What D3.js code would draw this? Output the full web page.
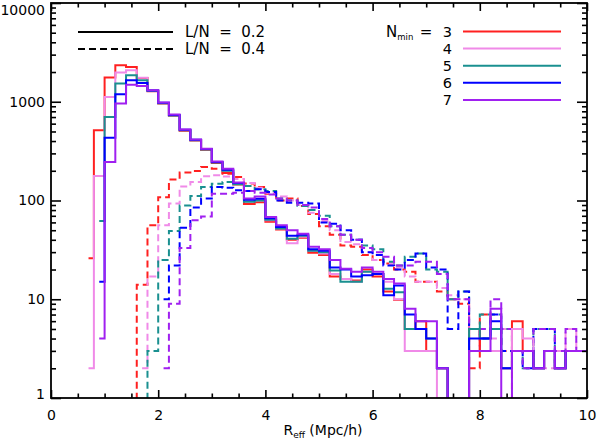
<!DOCTYPE html>
<html><head><meta charset="utf-8">
<script src="https://cdn.jsdelivr.net/npm/d3@7"></script>
<style>body{margin:0;background:#fff;} text{font-family:"DejaVu Sans",sans-serif;fill:#000;}</style>
</head><body><svg id="c" width="598" height="444"></svg>
<script>
// ---- data ----
const binWidth = 0.2;
const nminLabels = ["3", "4", "5", "6", "7"];
const lnLabels = ["L/N  =  0.2", "L/N  =  0.4"];
const seriesColors = ["#ff2020", "#f08ae8", "#1a9090", "#0000ff", "#a020f0"];
const xTicks = [0, 2, 4, 6, 8, 10];
const yTicks = [1, 10, 100, 1000, 10000];

// L/N = 0.2 (solid), values at bin centres starting at solidStart
const solidStart = [0.7, 0.7, 0.9, 0.9, 0.9];
const solidN3 = [26, 514, 1757, 2340, 2250, 1740, 1280, 960, 720, 510, 405, 325, 240, 190, 145, 92, 96, 61, 51, 40, 42, 29.5, 28, 17, 16, 15.5, 20, 17, 12, 9.9, 5, 6, 3, 2, 0, 0, 5, 3, 3, 2, 6, 3, 2, 3, 2, 3, 3, 3];
const solidN4 = [2, 177, 1117, 1973, 2080, 1750, 1300, 970, 730, 520, 410, 330, 245, 200, 148, 98, 100, 63, 52, 37, 43, 31, 29, 18, 16, 15, 19, 18, 15, 10, 3, 3, 3, 1, 0, 0, 3, 3, 3, 2, 5, 4, 2, 3, 2, 3, 3, 3];
const solidN5 = [62, 701, 1527, 1853, 1648, 1290, 965, 725, 515, 408, 328, 243, 200, 146, 97, 100, 64, 52, 41, 44, 31, 30, 19.6, 15, 15, 19, 18, 12.8, 11.8, 5, 5, 4, 2, 0, 0, 5, 4, 5, 2, 3, 3, 2, 3, 2, 3, 3, 3];
const solidN6 = [15, 433, 1190, 1648, 1550, 1300, 975, 735, 520, 412, 332, 246, 205, 150, 102, 104, 66, 54, 44, 45, 32, 31, 21, 20, 17, 17.5, 18, 11, 13.8, 7, 5, 4, 2, 0, 0, 4, 4, 6, 2, 3, 3, 2, 3, 2, 3, 3, 3];
const solidN7 = [4, 245, 958, 1490, 1440, 1310, 985, 745, 525, 415, 335, 248, 210, 152, 105, 110, 68, 56, 50, 46, 34, 32, 25, 20.4, 19, 21, 19, 16, 14.4, 8, 6, 6, 2, 0, 0, 3, 3, 8, 0, 3, 3, 2, 3, 2, 3, 3, 3];

// L/N = 0.4 (dashed)
const dashedStart = [1.5, 1.7, 1.7, 2.1, 2.1];
const dashedN3 = [0, 14, 56, 108, 163, 192, 199, 218, 210, 187, 173, 149, 137, 117, 100, 105, 88, 73, 55, 45, 35, 34, 28, 25, 23, 20, 19, 15, 15, 12, 10, 9, 2, 7, 5, 3, 0, 0, 0, 0, 0, 0, 0, 0];
const dashedN4 = [2, 17, 56, 93, 139, 154, 176, 180, 175, 165, 150, 135, 120, 110, 100, 90, 75, 62, 50, 38, 36, 30, 25, 23, 21, 17, 15, 15, 13, 11, 10, 5, 4, 4, 5, 3, 3, 2, 2, 3, 5, 3, 3];
const dashedN5 = [0, 3, 25, 49, 89, 111, 137, 148, 154, 150, 140, 130, 125, 105, 100, 88, 80, 70, 55, 45, 40, 35, 32, 24, 22, 27, 29, 20, 19, 10, 12, 5, 7, 7, 5, 3, 2, 5, 5, 2, 3, 3, 3];
const dashedN6 = [10, 22, 53, 85, 105, 137, 135, 127, 125, 130, 122, 100, 95, 95, 93, 60, 58, 50, 40, 30, 28, 22, 20, 25, 29, 21, 20, 5, 12, 5, 4, 7, 3, 3, 2, 5, 5, 2, 3, 3, 3];
const dashedN7 = [2, 9, 33, 63, 69, 117, 117, 120, 125, 120, 115, 105, 100, 90, 85, 65, 55, 45, 40, 33, 30, 27, 22, 22, 24, 24, 18, 10, 10, 3, 5, 10, 5, 3, 2, 5, 5, 3, 5, 3, 3];

const solidSeries = [solidN3, solidN4, solidN5, solidN6, solidN7];
const dashedSeries = [dashedN3, dashedN4, dashedN5, dashedN6, dashedN7];

// ---- layout ----
const m = {left: 51, right: 587, top: 3, bottom: 398};
const x = d3.scaleLinear().domain([0, 10]).range([m.left, m.right]);
const y = d3.scaleLog().domain([1, 10000]).range([m.bottom, m.top]);

const svg = d3.select("#c");
svg.append("defs").append("clipPath").attr("id", "plotclip")
  .append("rect").attr("x", m.left).attr("y", m.top)
  .attr("width", m.right - m.left).attr("height", m.bottom - m.top);

const toPts = (vals, start) => vals.map((v, i) => [start + i * binWidth, v]);
const line = d3.line()
  .x(d => x(d[0]))
  .y(d => y(Math.max(d[1], 0.05)))
  .curve(d3.curveStep);

const g = svg.append("g").attr("clip-path", "url(#plotclip)");
dashedSeries.forEach((s, k) => {
  g.append("path").attr("d", line(toPts(s, dashedStart[k])))
    .attr("fill", "none").attr("stroke", seriesColors[k])
    .attr("stroke-width", 2).attr("stroke-dasharray", "7,4");
});
solidSeries.forEach((s, k) => {
  g.append("path").attr("d", line(toPts(s, solidStart[k])))
    .attr("fill", "none").attr("stroke", seriesColors[k])
    .attr("stroke-width", 2);
});

// ---- axes ----
const minorY = [];
for (let e = 0; e < 4; e++) for (let k = 2; k <= 9; k++) minorY.push(k * Math.pow(10, e));
const minorX = d3.range(0, 10.01, 0.5).filter(v => v % 2 !== 0);

function styleAxis(sel) {
  sel.select(".domain").remove();
  sel.selectAll("line").attr("stroke", "#000").attr("stroke-width", 1.6);
  sel.selectAll("text").style("font-size", "14px").attr("fill", "#000");
}
svg.append("g").attr("transform", `translate(${m.left},0)`)
  .call(d3.axisLeft(y).tickValues(yTicks).tickSize(-10).tickPadding(6).tickFormat(d3.format("d")))
  .call(styleAxis)
  .call(s => s.selectAll("text").attr("dy", d => d === 10000 ? "0.85em" : d === 1 ? "0.05em" : "0.32em"));
svg.append("g").attr("transform", `translate(${m.left},0)`)
  .call(d3.axisLeft(y).tickValues(minorY).tickSize(-5).tickFormat(""))
  .call(styleAxis);
svg.append("g").attr("transform", `translate(${m.right},0)`)
  .call(d3.axisRight(y).tickValues(yTicks).tickSize(-10).tickFormat(""))
  .call(styleAxis);
svg.append("g").attr("transform", `translate(${m.right},0)`)
  .call(d3.axisRight(y).tickValues(minorY).tickSize(-5).tickFormat(""))
  .call(styleAxis);
svg.append("g").attr("transform", `translate(0,${m.bottom})`)
  .call(d3.axisBottom(x).tickValues(xTicks).tickSize(-8).tickPadding(12).tickFormat(d3.format("d")))
  .call(styleAxis);
svg.append("g").attr("transform", `translate(0,${m.bottom})`)
  .call(d3.axisBottom(x).tickValues(minorX).tickSize(-4.5).tickFormat(""))
  .call(styleAxis);
svg.append("g").attr("transform", `translate(0,${m.top})`)
  .call(d3.axisTop(x).tickValues(xTicks).tickSize(-8).tickFormat(""))
  .call(styleAxis);
svg.append("g").attr("transform", `translate(0,${m.top})`)
  .call(d3.axisTop(x).tickValues(minorX).tickSize(-4.5).tickFormat(""))
  .call(styleAxis);
svg.append("rect").attr("x", m.left).attr("y", m.top)
  .attr("width", m.right - m.left).attr("height", m.bottom - m.top)
  .attr("fill", "none").attr("stroke", "#000").attr("stroke-width", 1.8);

// x title
const xt = svg.append("text").attr("x", x(5) + 4).attr("y", 435).attr("text-anchor", "middle").style("font-size", "14px");
xt.append("tspan").text("R");
xt.append("tspan").attr("dy", 3).style("font-size", "9px").text("eff");
xt.append("tspan").attr("dy", -3).text(" (Mpc/h)");

// ---- legends ----
const lg = svg.append("g");
const lnY = [32, 49];
lnY.forEach((yy, i) => {
  lg.append("line").attr("x1", 78).attr("x2", 173).attr("y1", yy).attr("y2", yy)
    .attr("stroke", "#000").attr("stroke-width", 2)
    .attr("stroke-dasharray", i === 1 ? "7,4" : null);
  lg.append("text").attr("x", 185).attr("y", yy).attr("dy", "0.36em")
    .attr("xml:space", "preserve").style("white-space", "pre")
    .style("font-size", "15px").text(lnLabels[i]);
});
const nY = d3.range(5).map(i => 31.5 + i * 17.1);
nminLabels.forEach((lab, i) => {
  lg.append("line").attr("x1", 463).attr("x2", 561).attr("y1", nY[i]).attr("y2", nY[i])
    .attr("stroke", seriesColors[i]).attr("stroke-width", 2);
  lg.append("text").attr("x", 452).attr("y", nY[i]).attr("dy", "0.36em")
    .attr("text-anchor", "end").style("font-size", "14.5px").text(lab);
});
const nt = lg.append("text").attr("x", 386).attr("y", nY[0]).attr("dy", "0.36em").style("font-size", "15px");
nt.append("tspan").text("N");
nt.append("tspan").attr("dy", 3).style("font-size", "8.5px").text("min");
lg.append("text").attr("x", 426).attr("y", nY[0]).attr("dy", "0.36em")
  .attr("text-anchor", "middle").style("font-size", "15px").text("=");
</script></body></html>
